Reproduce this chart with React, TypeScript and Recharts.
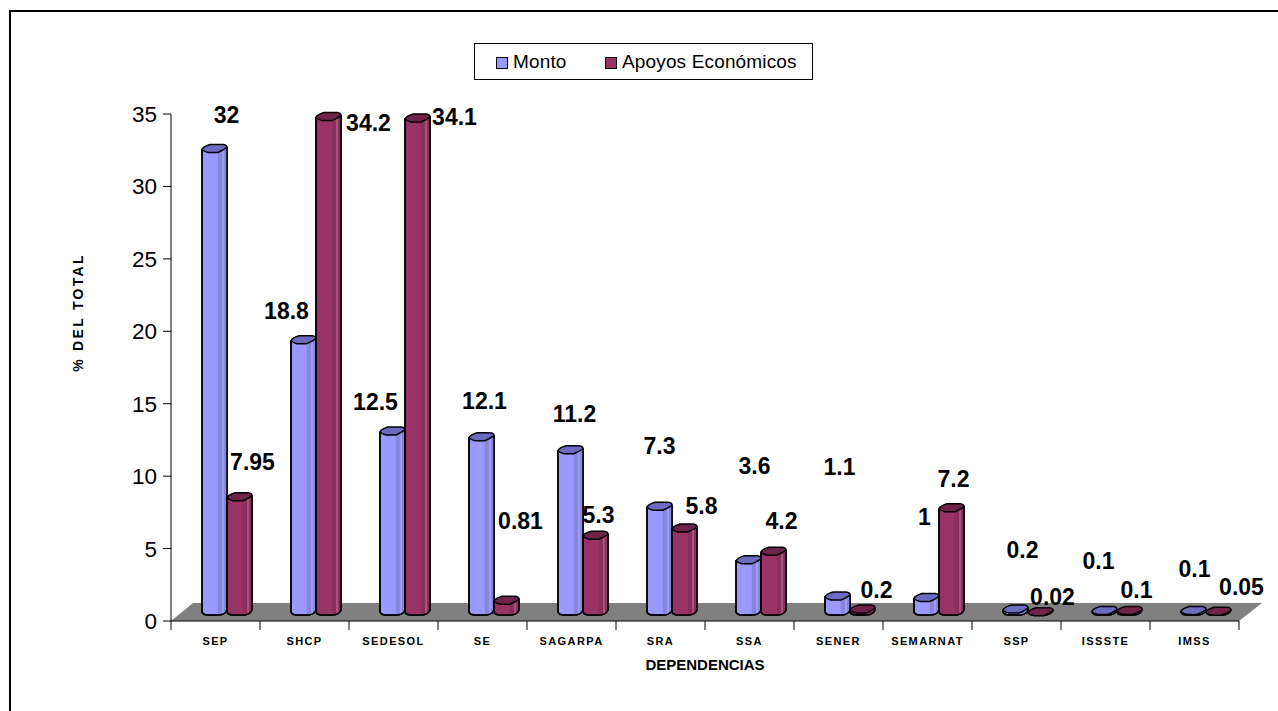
import { BarChart, Bar, XAxis, YAxis, Legend, LabelList, ReferenceArea } from 'recharts';

const dependencias = ['SEP', 'SHCP', 'SEDESOL', 'SE', 'SAGARPA', 'SRA', 'SSA', 'SENER', 'SEMARNAT', 'SSP', 'ISSSTE', 'IMSS'];
const monto = [32, 18.8, 12.5, 12.1, 11.2, 7.3, 3.6, 1.1, 1, 0.2, 0.1, 0.1];
const apoyos = [7.95, 34.2, 34.1, 0.81, 5.3, 5.8, 4.2, 0.2, 7.2, 0.02, 0.1, 0.05];
const yTicks = [0, 5, 10, 15, 20, 25, 30, 35];

const data = dependencias.map((name, i) => ({ name, monto: monto[i], apoyos: apoyos[i] }));

// hand placed labels in the original, so nudge each one from its bar
const montoNudge = [[23, -42], [-6, -38], [-6, -38], [14, -45], [15, -45], [11, -69], [17, -103], [13, -138], [9, -90], [18, -68], [5, -59], [12, -51]];
const apoyosNudge = [[24, -44], [51, -3], [48, -10], [25, -88], [14, -29], [28, -31], [19, -39], [25, -28], [13, -38], [23, -24], [18, -30], [34, -33]];

const FONT = '"Liberation Sans", Arial, sans-serif';
const SHIFT_X = 11;
const SHIFT_Y = -8;

const blueFaces = { front: '#9999FF', side: '#8686E0', shine: '#B4B4F5', top: '#6B6BBF' };
const wineFaces = { front: '#993366', side: '#8A2E5C', shine: '#C07A9C', top: '#6F2349' };

function cylinder(faces: typeof blueFaces) {
  return (props: any) => {
    const w = props.width;
    const x = props.x + SHIFT_X;
    const t = props.y + SHIFT_Y;
    const b = props.y + props.height + SHIFT_Y;
    const mid = x + w * 0.63;
    const r = x + w;
    const low = x + w * 0.24;
    const body = `M${x},${t} L${x},${b - 1} Q${x + 1},${b + 2} ${low},${b + 2} L${mid},${b + 2} Q${r - 2},${b + 2} ${r},${b - 3} L${r},${t - 2} Z`;
    const side = `M${mid},${t + 3} L${r},${t - 2} L${r},${b - 3} Q${r - 2},${b + 2} ${mid},${b + 2} Z`;
    const top = `M${x},${t} Q${x + 1},${t - 3} ${x + w * 0.32},${t - 5} L${x + w * 0.85},${t - 5} Q${r},${t - 4.5} ${r},${t - 2} Q${r - 4},${t + 1} ${mid},${t + 3} L${low},${t + 3} Q${x + 2},${t + 2} ${x},${t} Z`;
    return (
      <g strokeLinejoin="round">
        <path d={body} fill={faces.front} stroke="#000" strokeWidth={1.5} />
        <path d={side} fill={faces.side} />
        {props.height > 8 && <line x1={x + w * 0.84} y1={t + 1} x2={x + w * 0.84} y2={b} stroke={faces.shine} />}
        <path d={body} fill="none" stroke="#000" strokeWidth={1.5} />
        <path d={top} fill={faces.top} stroke="#000" strokeWidth={1.5} />
      </g>
    );
  };
}

function floorShape(props: any) {
  const left = props.x;
  const right = props.x + props.width;
  const base = props.y + props.height;
  return (
    <polygon
      points={`${left},${base} ${left + 22},${base - 18} ${right + 23},${base - 18} ${right},${base}`}
      fill="#808080"
    />
  );
}

function valueLabel(nudge: number[][]) {
  return (props: any) => {
    const [dx, dy] = nudge[props.index];
    return (
      <text
        x={props.x + props.width / 2 + dx}
        y={props.y + dy}
        textAnchor="middle"
        dominantBaseline="central"
        fontFamily={FONT}
        fontWeight="bold"
        fontSize={23}
        fill="#000"
      >
        {props.value}
      </text>
    );
  };
}

function categoryTick(props: any) {
  const band = 89;
  const { x, y, index, payload } = props;
  const last = index === dependencias.length - 1;
  return (
    <g>
      <line x1={x - band / 2} y1={y - 8} x2={x - band / 2} y2={y + 1} stroke="#000" />
      {last && <line x1={x + band / 2} y1={y - 8} x2={x + band / 2} y2={y + 1} stroke="#000" />}
      <text
        x={x}
        y={y + 12}
        textAnchor="middle"
        dominantBaseline="central"
        fontFamily={FONT}
        fontWeight="bold"
        fontSize={11}
        letterSpacing={1.4}
        fill="#000"
      >
        {payload.value}
      </text>
    </g>
  );
}

function legendBox(props: any) {
  return (
    <div
      style={{
        boxSizing: 'border-box',
        width: 339,
        height: 37,
        border: '1px solid #000',
        background: '#fff',
        position: 'relative',
        fontFamily: FONT,
        fontSize: 19,
        letterSpacing: 0.15,
      }}
    >
      {props.payload.map((item: any, i: number) => (
        <div key={item.value} style={{ position: 'absolute', left: i === 0 ? 21 : 130, top: 7, display: 'flex', alignItems: 'center', lineHeight: '22px', whiteSpace: 'nowrap' }}>
          <span style={{ boxSizing: 'border-box', width: 12, height: 12, background: item.color, border: '1px solid #000', marginRight: 5, marginTop: 2 }} />
          <span>{item.value}</span>
        </div>
      ))}
    </div>
  );
}

export default function App() {
  return (
    <div style={{ position: 'absolute', left: 0, top: 0, width: 1278, height: 711, background: '#fff', overflow: 'hidden' }}>
      <div style={{ position: 'absolute', left: 9, top: 10, width: 1269, height: 701, borderLeft: '2px solid #000', borderTop: '2px solid #000' }} />
      <BarChart
        width={1278}
        height={711}
        data={data}
        margin={{ top: 114, right: 39, bottom: 50, left: 111 }}
        barSize={25}
        barGap={0}
        style={{ position: 'absolute', left: 0, top: 0 }}
      >
        <XAxis
          dataKey="name"
          height={40}
          stroke="#000"
          tickLine={false}
          tick={categoryTick}
          interval={0}
          label={{ value: 'DEPENDENCIAS', position: 'insideBottom', offset: -9, fontFamily: FONT, fontWeight: 'bold', fontSize: 15, fill: '#000' }}
        />
        <YAxis
          domain={[0, 35]}
          ticks={yTicks}
          width={60}
          stroke="#000"
          tickSize={8}
          tickMargin={6}
          interval={0}
          tick={{ fontFamily: FONT, fontSize: 22.5, fill: '#000' }}
          label={{ value: '% DEL TOTAL', angle: -90, position: 'center', dx: -63, dy: -55, fontFamily: FONT, fontWeight: 'bold', fontSize: 14, letterSpacing: 2.3, fill: '#000' }}
        />
        <ReferenceArea y1={0} y2={35} shape={floorShape} />
        <Legend
          layout="horizontal"
          verticalAlign="middle"
          itemSorter={null}
          content={legendBox}
          wrapperStyle={{ left: 474, top: 43, width: 339, height: 37 }}
        />
        <Bar dataKey="monto" name="Monto" fill="#9999FF" shape={cylinder(blueFaces)} isAnimationActive={false}>
          <LabelList dataKey="monto" content={valueLabel(montoNudge)} />
        </Bar>
        <Bar dataKey="apoyos" name="Apoyos Económicos" fill="#993366" shape={cylinder(wineFaces)} isAnimationActive={false}>
          <LabelList dataKey="apoyos" content={valueLabel(apoyosNudge)} />
        </Bar>
      </BarChart>
    </div>
  );
}
